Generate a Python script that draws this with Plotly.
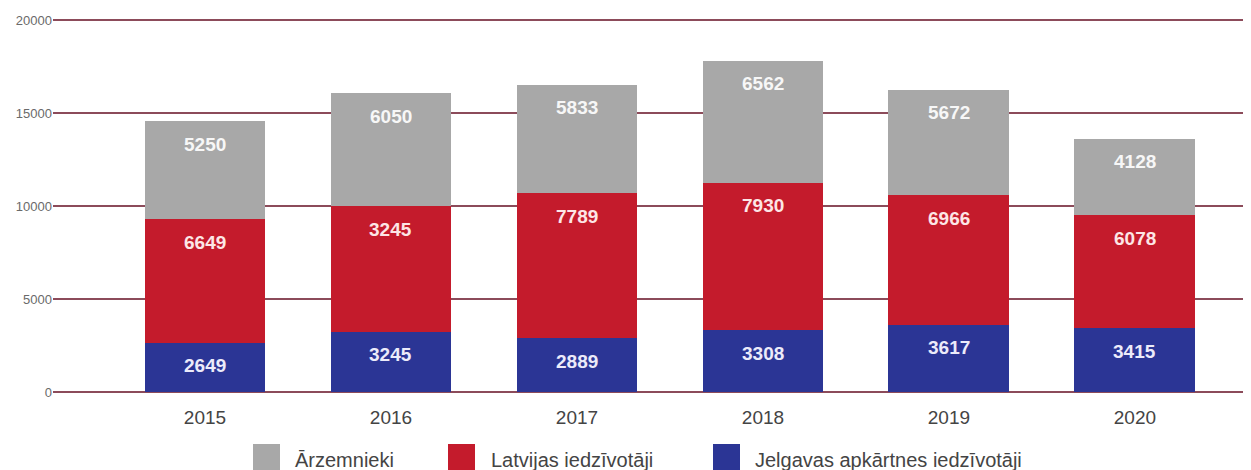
import plotly.graph_objects as go

years = ["2015", "2016", "2017", "2018", "2019", "2020"]

# bar heights
jelgava = [2649, 3245, 2889, 3308, 3617, 3415]
latvija = [6649, 6755, 7789, 7930, 6966, 6078]
arzemnieki = [5250, 6050, 5833, 6562, 5672, 4128]

# numbers printed on the bars (2016 red label reads 3245 in the source)
jelgava_labels = ["2649", "3245", "2889", "3308", "3617", "3415"]
latvija_labels = ["6649", "3245", "7789", "7930", "6966", "6078"]
arzemnieki_labels = ["5250", "6050", "5833", "6562", "5672", "4128"]

y_ticks = [0, 5000, 10000, 15000, 20000]

GRAY = "#a8a8a8"
RED = "#c41b2c"
BLUE = "#2b3595"
FONT = "Liberation Sans"

# the page body has an 8px margin, so the figure is drawn 8px in from the
# window corner; window pixel coords below are shifted by that offset
OFF = 8
W, H = 1251 - OFF, 470 - OFF
PX_L, PX_R, PX_T, PX_B = 53, 1251, 18, 392
Y_MAX = 20000 * (PX_B - PX_T) / (PX_B - 20)


def px_x(px):
    return (px - PX_L) / (PX_R - PX_L)


def px_y(py):
    return (PX_B - py) / (PX_B - PX_T)


fig = go.Figure()

series = [
    ("Jelgavas apkārtnes iedzīvotāji", jelgava, jelgava_labels, BLUE, "#ecebfa"),
    ("Latvijas iedzīvotāji", latvija, latvija_labels, RED, "#fde6e6"),
    ("Ārzemnieki", arzemnieki, arzemnieki_labels, GRAY, "#f7f7f7"),
]

base = [0] * len(years)
annotations = []
for name, vals, labels, color, txt_color in series:
    fig.add_trace(go.Bar(
        x=years,
        y=vals,
        name=name,
        marker=dict(color=color, line=dict(width=0)),
        showlegend=False,
        hoverinfo="skip",
    ))
    for i, (v, lab) in enumerate(zip(vals, labels)):
        top = base[i] + v
        annotations.append(dict(
            x=i, y=top, xref="x", yref="y",
            text=f"<b>{lab}</b>", showarrow=False,
            yanchor="middle", yshift=-23,
            font=dict(family=FONT, size=19, color=txt_color),
        ))
        base[i] = top

# custom legend with large squares
legend_items = [
    ("Ārzemnieki", GRAY, 253, 293),
    ("Latvijas iedzīvotāji", RED, 448, 489),
    ("Jelgavas apkārtnes iedzīvotāji", BLUE, 713, 753),
]
shapes = []
for label, color, sq_x, txt_x in legend_items:
    shapes.append(dict(
        type="rect", xref="paper", yref="paper",
        x0=px_x(sq_x), x1=px_x(sq_x + 27),
        y0=px_y(472), y1=px_y(444),
        fillcolor=color, line=dict(width=0),
    ))
    annotations.append(dict(
        x=px_x(txt_x), y=px_y(460), xref="paper", yref="paper",
        text=label, showarrow=False, xanchor="left", yanchor="middle",
        font=dict(family=FONT, size=20, color="#444444"),
    ))

fig.update_layout(
    width=W,
    height=H,
    margin=dict(l=PX_L - OFF, r=1251 - PX_R, t=PX_T - OFF, b=470 - PX_B),
    paper_bgcolor="white",
    plot_bgcolor="white",
    barmode="stack",
    bargap=0.35,
    font=dict(family=FONT, color="#444444"),
    xaxis=dict(
        type="category",
        range=[-0.817, 5.624],
        showgrid=False,
        showline=False,
        zeroline=False,
        ticks="outside",
        ticklen=8,
        tickcolor="rgba(0,0,0,0)",
        tickfont=dict(family=FONT, size=19, color="#444444"),
    ),
    yaxis=dict(
        range=[0, Y_MAX],
        tickvals=y_ticks,
        ticktext=[str(v) for v in y_ticks],
        showgrid=True,
        gridcolor="#8c4b5a",
        gridwidth=1.5,
        zeroline=True,
        zerolinecolor="#8c4b5a",
        zerolinewidth=1.5,
        showline=False,
        ticks="",
        tickfont=dict(family=FONT, size=13, color="#6a6a6a"),
    ),
    annotations=annotations,
    shapes=shapes,
)

fig.write_html("out.html")
